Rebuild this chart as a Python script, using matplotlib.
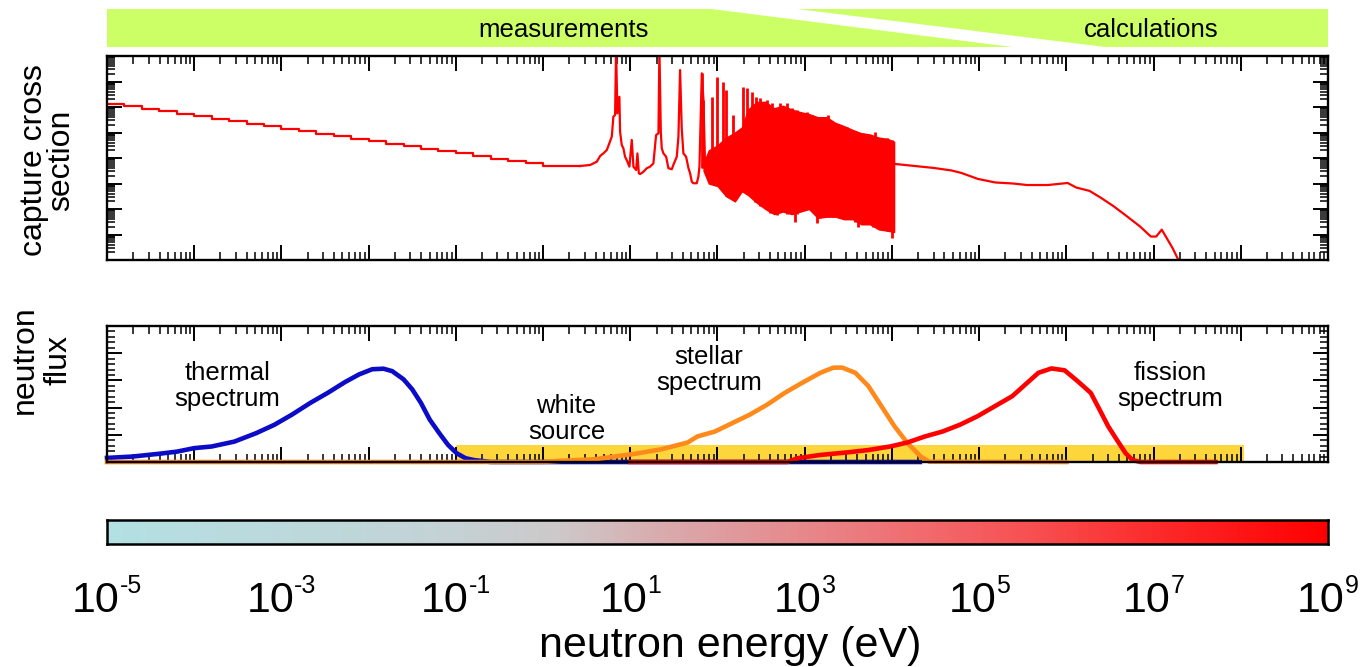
import numpy as np
import matplotlib
matplotlib.use('Agg')
import matplotlib.pyplot as plt
from matplotlib.colors import LinearSegmentedColormap
from matplotlib.ticker import LogLocator, MultipleLocator, NullFormatter
from matplotlib.patches import Polygon

plt.rcParams['font.family'] = ['Liberation Sans', 'DejaVu Sans']

# ------------------------------------------------------------------ data
E_MIN, E_MAX = 1e-5, 1e9          # neutron energy range (eV)
SIG_MIN, SIG_MAX = 1e-4, 1e4      # capture cross section range (b)

# capture cross section: 1/v region (log10 E [eV], log10 sigma [b])
low_log10E = [-5.0, -4.8, -4.6, -4.4, -4.2, -4.0, -3.8, -3.6, -3.4, -3.2, -3.0,
              -2.8, -2.6, -2.4, -2.2, -2.0, -1.8, -1.6, -1.4, -1.2, -1.0, -0.8,
              -0.6, -0.4, -0.2, 0.0, 0.2, 0.424]
low_log10sig = [2.12, 2.02, 1.93, 1.83, 1.73, 1.63, 1.54, 1.44, 1.34, 1.24, 1.15,
                1.05, 0.95, 0.86, 0.76, 0.66, 0.56, 0.47, 0.37, 0.27, 0.18, 0.08,
                -0.02, -0.11, -0.21, -0.30, -0.32, -0.314]

# resolved resonances
res_log10E = [0.424, 0.539, 0.616, 0.654, 0.692, 0.731, 0.788, 0.806, 0.826, 0.837,
              0.852, 0.875, 0.883, 0.902, 0.921, 0.940, 0.959, 0.990, 1.017, 1.036,
              1.067, 1.082, 1.098, 1.113, 1.151, 1.189, 1.227, 1.265, 1.296, 1.323,
              1.334, 1.350, 1.361, 1.380, 1.411, 1.437, 1.476, 1.494, 1.533, 1.552,
              1.571, 1.590, 1.609, 1.640, 1.667, 1.686, 1.705, 1.724, 1.762, 1.781,
              1.793, 1.820, 1.839, 1.858]
res_log10sig = [-0.314, -0.275, -0.145, 0.078, 0.184, 0.314, 0.837, 1.62, 1.69, 4.3,
                1.75, 2.40, 1.03, 0.51, 0.38, 0.05, -0.08, -0.34, 0.71, -0.34,
                -0.47, 0.18, -0.60, -0.63, -0.54, -0.40, -0.34, -0.21, 0.90, 0.97,
                4.3, 1.03, 0.38, 0.18, 0.05, -0.40, -0.44, -0.27, 0.05, 0.84,
                3.45, 1.16, 0.18, 0.05, -0.40, -0.60, -0.93, -0.99, -0.99, -0.73,
                -0.34, 3.32, 2.27, -0.34]

# dense resonance region: envelope of the unresolved band
band_log10E = [1.84, 1.90, 2.00, 2.10, 2.20, 2.28, 2.35, 2.45, 2.55, 2.65, 2.75, 2.85,
               2.95, 3.05, 3.15, 3.25, 3.35, 3.45, 3.55, 3.65, 3.75, 3.85, 3.95, 4.025]
band_top = [-0.2, 0.3, 0.5, 0.8, 1.0, 1.2, 1.9, 2.2, 2.2, 1.95, 2.05, 1.9,
            1.8, 1.72, 1.6, 1.6, 1.38, 1.25, 1.1, 0.97, 0.92, 0.8, 0.75, 0.64]
band_bot = [-0.5, -1.0, -1.1, -1.5, -1.7, -1.3, -1.45, -1.75, -2.0, -2.2, -2.1, -2.2,
            -2.1, -2.0, -2.35, -2.3, -2.3, -2.4, -2.4, -2.6, -2.6, -2.8, -2.85, -2.9]

# individual resonance spikes in the dense region (log10 E, low, high)
spike_log10E = [1.820, 1.839, 1.934, 1.992, 2.068, 2.095, 2.183, 2.297, 2.336, 2.393,
                2.443, 2.489, 2.565, 2.622, 2.718, 2.795, 2.852, 2.909, 3.024, 3.081,
                3.157, 3.272, 3.329, 3.406, 3.482, 3.578, 3.673, 3.750, 3.807, 3.865,
                3.941, 2.431, 2.603, 2.680, 2.890, 3.138, 3.616, 3.711, 3.788, 3.999]
spike_lo = [-0.4, -0.4, -1.0, -1.0, -1.2, -1.5, -1.65, -1.3, -1.4, -1.5,
            -1.7, -1.9, -2.0, -2.1, -2.1, -2.2, -2.2, -2.2, -2.0, -2.0,
            -2.3, -2.3, -2.3, -2.35, -2.4, -2.5, -2.6, -2.6, -2.7, -2.8,
            -2.85, -1.71, -2.17, -2.24, -2.5, -2.56, -2.69, -2.56, -2.69, -3.15]
spike_hi = [3.32, 2.27, 2.40, 3.19, 2.99, 2.67, 1.69, 2.80, 2.73, 2.60,
            2.40, 2.34, 2.27, 2.14, 2.14, 2.14, 1.95, 1.88, 1.82, 1.69,
            1.62, 1.69, 1.42, 1.29, 1.23, 1.03, 0.97, 0.90, 1.03, 0.77,
            0.77, 1.6, 1.9, 1.8, 1.7, 1.5, 0.9, 0.85, 0.8, 0.7]

# calculated (fast) region
fast_log10E = [4.025, 4.28, 4.48, 4.685, 4.80, 4.985, 5.186, 5.388, 5.55, 5.789,
               5.90, 6.015, 6.115, 6.266, 6.391, 6.541, 6.692, 6.843, 6.969, 7.03,
               7.094, 7.219, 7.295, 7.32]
fast_log10sig = [-0.23, -0.32, -0.39, -0.49, -0.59, -0.82, -0.96, -1.00, -1.06, -1.06,
                 -1.02, -0.98, -1.16, -1.29, -1.55, -1.89, -2.28, -2.68, -3.08, -3.08,
                 -2.81, -3.54, -4.07, -4.5]

# neutron flux spectra (arbitrary units)
thermal_log10E = [-5.00, -4.71, -4.41, -4.20, -4.00, -3.80, -3.54, -3.29, -3.08, -2.88,
                  -2.67, -2.47, -2.27, -2.11, -1.96, -1.83, -1.73, -1.60, -1.50, -1.40,
                  -1.30, -1.19, -1.09, -0.99, -0.89, -0.79, -0.6, 4.32]
thermal_flux = [0.15, 0.20, 0.30, 0.38, 0.51, 0.57, 0.75, 1.06, 1.37, 1.74,
                2.17, 2.54, 2.94, 3.22, 3.41, 3.43, 3.34, 3.04, 2.67, 2.17,
                1.56, 1.06, 0.63, 0.32, 0.14, 0.07, 0.0, 0.0]
stellar_log10E = [-5.0, 0.0, 0.18, 0.59, 1.05, 1.36, 1.66, 1.77, 1.97, 2.17, 2.37, 2.57,
                  2.77, 2.97, 3.18, 3.33, 3.43, 3.58, 3.73, 3.88, 4.03, 4.18, 4.33,
                  4.43, 6.0]
stellar_flux = [0.0, 0.0, 0.04, 0.10, 0.30, 0.47, 0.72, 0.94, 1.12, 1.43, 1.74, 2.11,
                2.54, 2.91, 3.28, 3.47, 3.47, 3.28, 2.79, 2.05, 1.31, 0.69, 0.20,
                0.01, 0.0]
fission_log10E = [1.0, 2.80, 2.92, 3.18, 3.48, 3.73, 3.98, 4.18, 4.38, 4.58, 4.78, 4.98,
                  5.18, 5.38, 5.53, 5.68, 5.83, 5.98, 6.13, 6.28, 6.38, 6.48, 6.58,
                  6.68, 6.76, 6.85, 7.71]
fission_flux = [0.0, 0.0, 0.14, 0.26, 0.35, 0.44, 0.57, 0.72, 0.94, 1.12, 1.37, 1.68,
                2.05, 2.42, 2.85, 3.28, 3.44, 3.37, 2.97, 2.54, 1.93, 1.31, 0.81,
                0.32, 0.07, 0.0, 0.0]
white_E = [1e-1, 1.1e8]
white_level = 0.63

# energy scale labels and banner boundaries
label_decades = [-5, -3, -1, 1, 3, 5, 7, 9]
measure_edge_E = (85.0, 2.4e5)     # (top, bottom) of "measurements" boundary
calc_edge_E = (8.1e2, 2.8e6)       # (top, bottom) of "calculations" boundary

# ------------------------------------------------------------------ figure
W, H = 1368, 667
fig = plt.figure(figsize=(W / 100, H / 100), dpi=100)


def rect(x0, x1, ytop, ybot):
    return [x0 / W, 1 - ybot / H, (x1 - x0) / W, (ybot - ytop) / H]


ax_ban = fig.add_axes(rect(107, 1328, 9, 47))
ax_top = fig.add_axes(rect(107, 1328, 56, 260))
ax_mid = fig.add_axes(rect(107, 1328, 326, 462))
ax_cb = fig.add_axes(rect(107, 1328, 520, 544))

RED = '#ff0000'
BLUE = '#0c0cc8'
ORANGE = '#ff8a1c'
GREEN = '#ccff66'
YELLOW = '#fcd63a'

L = lambda a: 10.0 ** np.asarray(a, dtype=float)

# ---- banner
ax_ban.set_xscale('log')
ax_ban.set_xlim(E_MIN, E_MAX)
ax_ban.set_ylim(0, 1)
ax_ban.axis('off')
ax_ban.add_patch(Polygon([(E_MIN, 0), (E_MIN, 1), (measure_edge_E[0], 1),
                          (measure_edge_E[1], 0)], closed=True, fc=GREEN, ec='none'))
ax_ban.add_patch(Polygon([(calc_edge_E[0], 1), (E_MAX, 1), (E_MAX, 0),
                          (calc_edge_E[1], 0)], closed=True, fc=GREEN, ec='none'))
ax_ban.text(0.374, 0.27, 'measurements', transform=ax_ban.transAxes,
            ha='center', va='baseline', fontsize=18.5)
ax_ban.text(0.855, 0.27, 'calculations', transform=ax_ban.transAxes,
            ha='center', va='baseline', fontsize=18.5)

# ---- capture cross section
ax = ax_top
ax.set_xscale('log')
ax.set_yscale('log')
ax.set_xlim(E_MIN, E_MAX)
ax.set_ylim(SIG_MIN, SIG_MAX)
ax.plot(L(low_log10E), L(low_log10sig), color=RED, lw=1.6, drawstyle='steps-post')
ax.plot(L(res_log10E), L(res_log10sig), color=RED, lw=1.6)
ax.fill_between(L(band_log10E), L(band_bot), L(band_top), color=RED, lw=1.0)
ax.vlines(L(spike_log10E), L(spike_lo), L(spike_hi), color=RED, lw=2.0)
ax.plot(L(fast_log10E), L(fast_log10sig), color=RED, lw=1.6)
ax.yaxis.set_major_locator(LogLocator(base=10, numticks=30))
ax.yaxis.set_minor_locator(LogLocator(base=10, subs=np.arange(2, 10), numticks=30))
ax.yaxis.set_major_formatter(NullFormatter())
ax.yaxis.set_minor_formatter(NullFormatter())

# ---- neutron flux
ax = ax_mid
ax.set_xscale('log')
ax.set_xlim(E_MIN, E_MAX)
ax.set_ylim(0, 5)
ax.fill_between(white_E, 0, white_level, color=YELLOW, lw=0, zorder=1)
ax.plot(L(thermal_log10E), thermal_flux, color=BLUE, lw=3.3, clip_on=False, zorder=2)
ax.plot(L(stellar_log10E), stellar_flux, color=ORANGE, lw=3.3, clip_on=False, zorder=2.1)
ax.plot(L(fission_log10E), fission_flux, color=RED, lw=3.3, clip_on=False, zorder=2.2)
ax.yaxis.set_major_locator(MultipleLocator(1))
ax.yaxis.set_minor_locator(MultipleLocator(0.2))
ax.yaxis.set_major_formatter(NullFormatter())

lab = dict(ha='center', va='center', fontsize=18.5, multialignment='center', linespacing=1.15)
fig.text(227.5 / W, 1 - 386 / H, 'thermal\nspectrum', **lab)
fig.text(566.5 / W, 1 - 419 / H, 'white\nsource', **lab)
fig.text(709 / W, 1 - 370 / H, 'stellar\nspectrum', **lab)
fig.text(1170 / W, 1 - 386 / H, 'fission\nspectrum', **lab)

for ax in (ax_top, ax_mid):
    ax.xaxis.set_major_locator(LogLocator(base=10, numticks=30))
    ax.xaxis.set_minor_locator(LogLocator(base=10, subs=np.arange(2, 10), numticks=30))
    ax.xaxis.set_major_formatter(NullFormatter())
    ax.xaxis.set_minor_formatter(NullFormatter())
    ax.tick_params(which='both', direction='in', top=True, right=True,
                   bottom=True, left=True, labelbottom=False, labelleft=False)
    ax.tick_params(which='major', length=11, width=1.4)
    ax.tick_params(which='minor', length=6, width=1.1)
    for s in ax.spines.values():
        s.set_linewidth(1.7)

# ---- energy colour bar
cb_cmap = LinearSegmentedColormap.from_list('energy', [
    (0.0, '#b3e0e3'), (0.28, '#c4d2d5'), (0.37, '#cdc8c9'), (0.46, '#d9a9ac'),
    (0.56, '#e58b8e'), (0.65, '#ef7073'), (0.756, '#f75052'), (0.862, '#fc2a2a'),
    (1.0, '#ff0000')])
ax = ax_cb
ax.set_xscale('log')
ax.set_xlim(E_MIN, E_MAX)
ax.set_ylim(0, 1)
edges = np.logspace(np.log10(E_MIN), np.log10(E_MAX), 500)
ax.pcolormesh(edges, [0, 1], np.linspace(0, 1, 499)[None, :], cmap=cb_cmap,
              shading='flat', rasterized=True)
ax.set_xticks([])
ax.set_yticks([])
ax.minorticks_off()
for s in ax.spines.values():
    s.set_linewidth(1.8)

PT = 0.72  # points per pixel at 100 dpi
for k in label_decades:
    exp = str(k)
    shift_px = 12.9 if k < 0 else 17.0
    ax.annotate('10', xy=(10.0 ** k, 0), xycoords=ax.get_xaxis_transform(),
                xytext=(shift_px * PT, -(612 - 544) * PT), textcoords='offset points',
                ha='right', va='baseline', fontsize=31, annotation_clip=False)
    ax.annotate(exp, xy=(10.0 ** k, 0), xycoords=ax.get_xaxis_transform(),
                xytext=(shift_px * PT, -(593 - 544) * PT), textcoords='offset points',
                ha='left', va='baseline', fontsize=18, annotation_clip=False)

fig.text(730 / W, 1 - 657 / H, 'neutron energy (eV)', ha='center', va='baseline', fontsize=31)

# ---- y labels
fig.text(48 / W, 1 - 160 / H, 'capture cross\nsection', rotation=90, ha='center',
         va='center', fontsize=23, multialignment='center', linespacing=0.87)
fig.text(42 / W, 1 - 360 / H, 'neutron\nflux', rotation=90, ha='center',
         va='center', fontsize=23, multialignment='center', linespacing=1.15)

fig.savefig('out.png', dpi=100)
